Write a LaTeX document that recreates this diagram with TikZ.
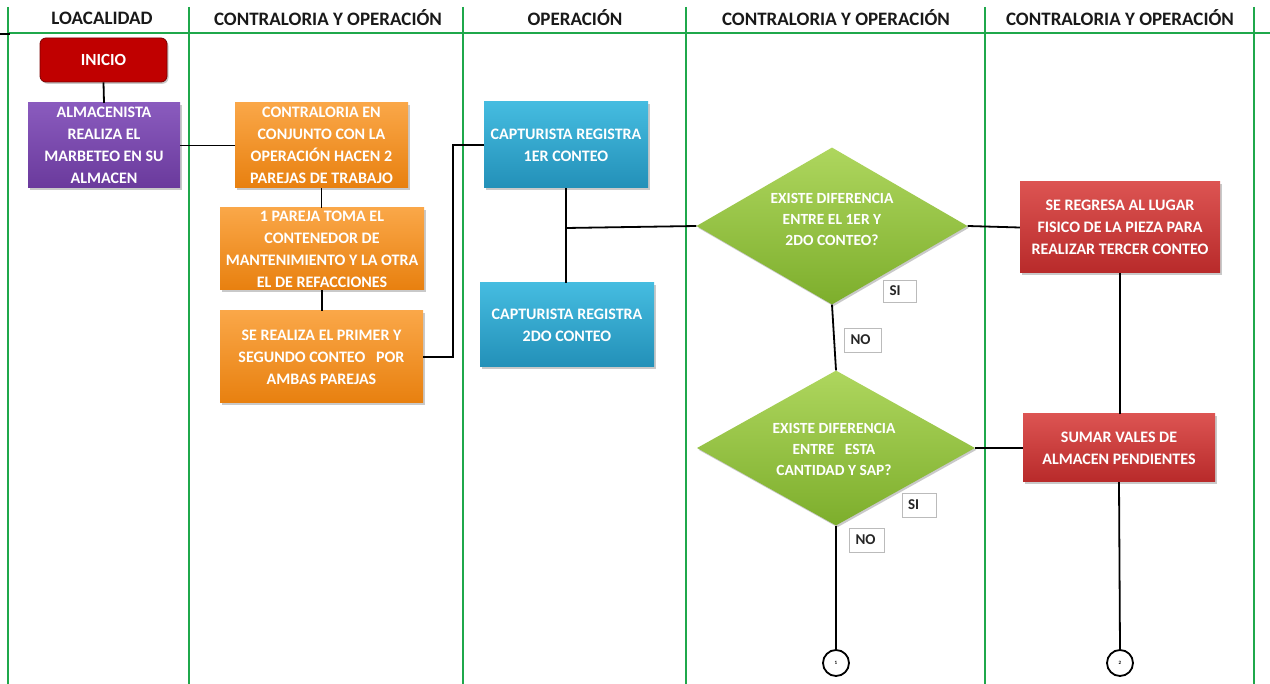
\documentclass[tikz,border=0pt]{standalone}
\usepackage{fontspec}
\setmainfont{Carlito}
\usetikzlibrary{shapes.geometric,shadows}
\definecolor{lanegreen}{HTML}{1FA84B}
\definecolor{inired}{HTML}{C00000}
\definecolor{inidark}{HTML}{7A0000}
\definecolor{purtop}{HTML}{8A5BBE}
\definecolor{purbot}{HTML}{6A3A9C}
\definecolor{ortop}{HTML}{FAA748}
\definecolor{orbot}{HTML}{E8800F}
\definecolor{bltop}{HTML}{45BCE0}
\definecolor{blbot}{HTML}{2390B8}
\definecolor{rdtop}{HTML}{DC5452}
\definecolor{rdbot}{HTML}{B82A2A}
\definecolor{grtop}{HTML}{AED65E}
\definecolor{grbot}{HTML}{7DAE2C}
\definecolor{tagline}{HTML}{BBBBBB}
\tikzset{
  lane/.style={draw=lanegreen, line width=2.4pt},
  wire/.style={draw=black, line width=1.8pt},
  header/.style={font=\bfseries\fontsize{19}{22}\selectfont, text=black!90},
  shade/.style={drop shadow={shadow xshift=1.5pt, shadow yshift=-1.8pt, opacity=0.35, fill=black!60}},
  procbox/.style={rectangle, inner sep=0pt, text=white, align=center,
    font=\bfseries\fontsize{16}{22}\selectfont, shade},
  purbox/.style={procbox, top color=purtop, bottom color=purbot},
  orbox/.style={procbox, top color=ortop, bottom color=orbot},
  blbox/.style={procbox, top color=bltop, bottom color=blbot},
  rdbox/.style={procbox, top color=rdtop, bottom color=rdbot},
  decision/.style={diamond, inner sep=0pt, top color=grtop, bottom color=grbot, shade},
  dtext/.style={text=white, align=center, font=\bfseries\fontsize{15.5}{21}\selectfont},
  tag/.style={rectangle, draw=tagline, line width=0.8pt, fill=white, inner xsep=6pt,
    inner ysep=0pt, align=left, font=\bfseries\fontsize{15}{16}\selectfont, text=black!85},
  connector/.style={circle, draw=black, line width=1.8pt, fill=white, minimum size=26pt,
    inner sep=0pt, font=\bfseries\fontsize{5}{6}\selectfont},
}
\begin{document}
\begin{tikzpicture}[x=1pt,y=-1pt]
  \fill[white] (0,0) rectangle (1270,684);
  \useasboundingbox (0,0) rectangle (1270,684);

  % swimlane grid
  \foreach \lx in {8,189,463,686,985,1254}
    \draw[lane] (\lx,7) -- (\lx,684);
  \draw[lane] (8,33) -- (1270,33);
  \draw[black, line width=1.6pt] (0,34) -- (10,34);

  % lane titles
  \node[header] (h1) at (102,18) {LOACALIDAD};
  \node[header] (h2) at (328,18) {CONTRALORIA Y OPERACIÓN};
  \node[header] (h3) at (575,18) {OPERACIÓN};
  \node[header] (h4) at (836,18) {CONTRALORIA Y OPERACIÓN};
  \node[header] (h5) at (1120,18) {CONTRALORIA Y OPERACIÓN};

  % start
  \node[rectangle, rounded corners=6pt, fill=inired, draw=inidark, line width=0.8pt,
        minimum width=127pt, minimum height=44pt, inner sep=0pt, text=white,
        font=\bfseries\fontsize{17}{19}\selectfont, shade] (ini) at (103.5,60) {INICIO};

  % process boxes
  \node[purbox, minimum width=152pt, minimum height=85pt] (alm) at (104,145.5)
    {ALMACENISTA\\REALIZA EL\\MARBETEO EN SU\\ALMACEN};
  \node[orbox, minimum width=173pt, minimum height=85pt] (or1) at (321.5,145.5)
    {CONTRALORIA EN\\CONJUNTO CON LA\\OPERACIÓN HACEN 2\\PAREJAS DE TRABAJO};
  \node[orbox, minimum width=204pt, minimum height=82pt] (or2) at (322,249)
    {1 PAREJA TOMA EL\\CONTENEDOR DE\\MANTENIMIENTO Y LA OTRA\\EL DE REFACCIONES};
  \node[orbox, minimum width=203pt, minimum height=92pt] (or3) at (321.5,357)
    {SE REALIZA EL PRIMER Y\\SEGUNDO CONTEO~~ POR\\AMBAS PAREJAS};
  \node[blbox, minimum width=164pt, minimum height=86pt] (bl1) at (566,145)
    {CAPTURISTA REGISTRA\\1ER CONTEO};
  \node[blbox, minimum width=174pt, minimum height=84pt] (bl2) at (567,325)
    {CAPTURISTA REGISTRA\\2DO CONTEO};
  \node[rdbox, minimum width=200pt, minimum height=91pt] (rd1) at (1120,227.5)
    {SE REGRESA AL LUGAR\\FISICO DE LA PIEZA PARA\\REALIZAR TERCER CONTEO};
  \node[rdbox, minimum width=192pt, minimum height=68pt] (rd2) at (1119,448)
    {SUMAR VALES DE\\ALMACEN PENDIENTES};

  % decisions
  \node[decision, minimum width=271pt, minimum height=157pt] (d1) at (832,226) {};
  \node[dtext] (d1t) at (832,219) {EXISTE DIFERENCIA\\ENTRE EL 1ER Y\\2DO CONTEO?};
  \node[decision, minimum width=278pt, minimum height=155pt] (d2) at (836,448) {};
  \node[dtext] (d2t) at (834,449) {EXISTE DIFERENCIA\\ENTRE~~ ESTA\\CANTIDAD Y SAP?};

  % off-page connectors
  \node[connector] (c1) at (836,663) {1};
  \node[connector] (c2) at (1120,663) {2};

  % flow lines
  \draw[wire] (ini.south) -- (alm.north);
  \draw[wire] (alm.east) -- (or1.west);
  \draw[wire] (or1.south) -- (or1.south |- or2.north);
  \draw[wire] (or2.south) -- (or2.south |- or3.north);
  \draw[wire] (or3.east) -- (453,357) |- (bl1.west);
  \draw[wire] (bl1.south) -- (bl1.south |- bl2.north);
  \coordinate (jn) at (566,228);
  \draw[wire] (jn) -- (d1.west);
  \draw[wire] (d1.east) -- (rd1.west);
  \draw[wire] (d1.south) -- (d2.north);
  \draw[wire] (d2.east) -- (rd2.west);
  \draw[wire] (rd1.south) -- (rd1.south |- rd2.north);
  \draw[wire] (d2.south) -- (c1.north);
  \draw[wire] (rd2.south) -- (c2.north);

  % answer tags
  \node[tag, text width=21pt, minimum height=22pt] (si1) at (900,291) {SI};
  \node[tag, text width=25pt, minimum height=24pt] (no1) at (863,340) {NO};
  \node[tag, text width=22pt, minimum height=24pt] (si2) at (919,505) {SI};
  \node[tag, text width=23pt, minimum height=24pt] (no2) at (867,540) {NO};
\end{tikzpicture}
\end{document}
